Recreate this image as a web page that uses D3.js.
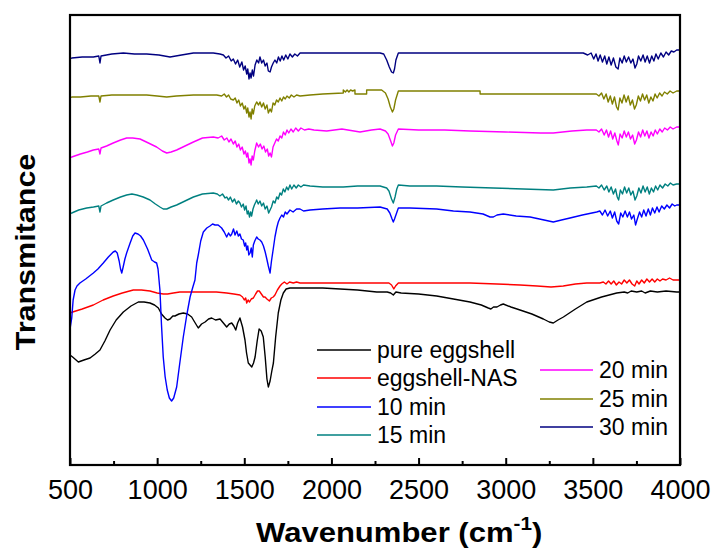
<!DOCTYPE html>
<html>
<head>
<meta charset="utf-8">
<script src="https://cdn.jsdelivr.net/npm/d3@7/dist/d3.min.js"></script>
<style>
  html, body { margin: 0; padding: 0; background: #fff; }
  svg { display: block; }
  text { font-family: "Liberation Sans", Arial, sans-serif; fill: #000; }
</style>
</head>
<body>
<svg id="chart" width="718" height="550"></svg>
<script>
// ---- data: [wavenumber (cm-1), offset transmittance (a.u.)] ----
const pureEggshell = [[500,110],[515,108],[548,103],[580,105],[615,107],[645,111],[672,115],[700,124],[730,135],[765,145],[806,153],[850,159],[892,163],[925,163],[959,162],[985,160],[1007,157],[1025,151],[1045,147],[1060,145],[1074,146],[1090,149],[1102,149],[1125,151],[1150,152],[1175,151],[1198,148],[1215,143],[1236,137],[1255,141],[1275,143],[1295,146],[1313,147],[1335,145],[1361,146],[1380,142],[1399,138],[1414,141],[1428,142],[1440,139],[1451,135],[1462,142],[1475,147],[1490,138],[1504,125],[1513,112],[1523,102],[1543,98],[1553,102],[1562,108],[1574,124],[1585,136],[1597,134],[1609,128],[1620,108],[1630,86],[1638,78],[1648,84],[1658,94],[1667,102],[1680,128],[1695,152],[1710,165],[1724,172],[1740,176],[1762,177],[1850,177],[1950,177],[2050,176],[2150,175],[2260,173],[2320,173],[2340,172],[2355,170],[2370,173],[2400,172],[2500,171],[2604,169],[2700,166],[2795,163],[2860,160],[2900,157],[2915,156],[2930,158],[2950,158],[2970,160],[2986,161],[3030,158],[3082,155],[3150,151],[3216,146],[3250,143],[3273,142],[3300,145],[3331,148],[3400,156],[3465,163],[3550,168],[3637,172],[3680,173],[3700,172],[3720,174],[3752,173],[3780,174],[3800,172],[3830,174],[3870,173],[3920,174],[3981,173],[4000,173]];

const eggshellNAS = [[500,152],[515,153],[570,156],[634,160],[690,165],[748,169],[800,172],[863,175],[910,175],[959,174],[1000,172],[1035,171],[1060,171],[1093,172],[1130,173],[1170,173],[1230,173],[1284,173],[1340,173],[1399,172],[1440,171],[1475,170],[1490,168],[1500,165],[1508,167],[1514,162],[1522,165],[1530,163],[1540,166],[1552,167],[1565,171],[1576,174],[1586,174],[1598,171],[1610,168],[1619,168],[1630,166],[1644,164],[1655,167],[1666,168],[1676,170],[1690,175],[1705,179],[1715,181],[1730,183],[1745,181],[1760,183],[1781,182],[1800,183],[1820,182],[1900,182],[2000,182],[2100,182],[2200,182],[2279,182],[2330,182],[2345,180],[2358,176],[2368,179],[2384,182],[2500,182],[2650,182],[2795,182],[2950,181],[3082,180],[3180,179],[3260,178],[3330,179],[3400,181],[3465,182],[3540,182],[3560,183],[3575,181],[3590,184],[3605,181],[3620,184],[3635,180],[3650,183],[3665,181],[3680,185],[3695,182],[3710,185],[3725,181],[3740,179],[3752,184],[3765,181],[3780,185],[3795,182],[3810,186],[3825,183],[3840,186],[3855,183],[3870,186],[3885,184],[3900,186],[3920,185],[3940,187],[3960,185],[3981,185],[4000,185]];

const min10 = [[502,138],[510,147],[518,165],[529,175],[540,179],[557,182],[590,186],[634,192],[660,196],[691,202],[720,208],[748,213],[760,214],[771,212],[782,204],[790,196],[797,192],[805,198],[815,206],[825,212],[845,222],[860,229],[873,232],[890,231],[905,229],[921,225],[945,216],[969,205],[985,203],[997,202],[1005,196],[1016,175],[1025,140],[1035,108],[1046,88],[1058,75],[1070,67],[1083,64],[1095,67],[1112,78],[1130,102],[1150,128],[1170,150],[1189,168],[1205,178],[1217,185],[1227,202],[1236,210],[1250,224],[1265,233],[1285,237],[1303,239],[1318,241],[1332,240],[1350,240],[1370,237],[1385,233],[1399,228],[1410,232],[1420,229],[1428,231],[1438,236],[1447,230],[1457,234],[1466,229],[1475,231],[1484,226],[1494,225],[1502,219],[1508,222],[1514,215],[1520,219],[1526,210],[1533,212],[1540,217],[1546,208],[1552,220],[1560,224],[1571,228],[1580,226],[1590,225],[1600,223],[1610,219],[1620,213],[1628,207],[1638,199],[1648,192],[1656,204],[1667,217],[1676,228],[1686,237],[1695,243],[1705,247],[1715,250],[1725,248],[1735,253],[1745,251],[1762,255],[1780,253],[1800,256],[1820,256],[1840,254],[1877,255],[1950,256],[2050,257],[2150,257],[2279,258],[2320,256],[2335,252],[2348,246],[2355,243],[2362,246],[2370,250],[2384,257],[2450,257],[2604,256],[2700,254],[2795,253],[2870,251],[2910,248],[2929,248],[2950,250],[2986,251],[3060,249],[3140,248],[3220,245],[3273,243],[3320,245],[3369,247],[3440,250],[3522,253],[3540,254],[3555,250],[3570,255],[3585,249],[3600,254],[3612,247],[3625,253],[3637,244],[3648,241],[3660,252],[3672,248],[3685,254],[3698,248],[3710,253],[3722,246],[3735,250],[3745,240],[3755,246],[3768,253],[3780,248],[3792,255],[3805,249],[3818,256],[3830,250],[3842,257],[3855,252],[3868,258],[3880,253],[3895,259],[3910,256],[3925,260],[3940,257],[3955,261],[3970,259],[3981,260],[4000,260]];

const min15 = [[500,251],[510,252],[550,255],[596,257],[635,258],[665,259],[672,253],[678,259],[710,262],[748,265],[790,268],[825,270],[855,271],[883,270],[920,268],[959,265],[990,261],[1016,258],[1035,256],[1055,256],[1080,258],[1112,260],[1160,264],[1208,268],[1260,271],[1322,272],[1345,271],[1360,269],[1375,271],[1390,267],[1399,268],[1410,265],[1420,268],[1432,263],[1444,266],[1455,261],[1466,264],[1475,262],[1484,258],[1494,261],[1502,255],[1510,259],[1517,251],[1523,254],[1530,248],[1536,253],[1542,249],[1550,256],[1558,260],[1566,263],[1571,265],[1580,261],[1590,264],[1600,259],[1610,262],[1620,256],[1630,259],[1640,252],[1648,255],[1656,258],[1666,264],[1676,262],[1686,268],[1695,266],[1705,272],[1714,270],[1724,276],[1733,273],[1743,278],[1752,275],[1762,280],[1772,276],[1785,280],[1798,277],[1810,280],[1825,278],[1840,280],[1877,279],[1950,278],[2068,278],[2150,279],[2279,279],[2317,277],[2330,274],[2345,266],[2355,262],[2365,268],[2375,276],[2384,280],[2450,279],[2604,279],[2750,278],[2929,277],[3100,276],[3273,275],[3370,277],[3465,278],[3520,279],[3535,277],[3550,280],[3565,275],[3580,279],[3592,273],[3605,278],[3618,271],[3630,276],[3640,268],[3648,265],[3658,275],[3670,271],[3682,278],[3694,272],[3706,277],[3718,270],[3730,274],[3742,265],[3752,269],[3764,277],[3776,272],[3788,279],[3800,273],[3812,278],[3824,271],[3836,277],[3848,273],[3860,279],[3872,275],[3885,280],[3900,277],[3915,281],[3930,279],[3945,282],[3960,280],[3981,281],[4000,281]];

const min20 = [[500,307],[510,308],[560,311],[600,313],[634,315],[665,316],[672,311],[678,317],[710,319],[748,322],[790,325],[825,327],[860,327],[902,326],[950,322],[997,318],[1030,314],[1055,312],[1080,313],[1112,315],[1160,319],[1208,323],[1260,327],[1322,328],[1350,327],[1370,329],[1385,325],[1400,327],[1412,323],[1424,326],[1437,321],[1448,324],[1458,318],[1468,321],[1478,315],[1488,318],[1498,311],[1506,314],[1514,308],[1520,312],[1527,302],[1533,306],[1539,300],[1545,309],[1552,305],[1560,314],[1571,322],[1582,318],[1592,321],[1602,316],[1612,319],[1622,313],[1632,316],[1640,309],[1648,312],[1656,308],[1665,318],[1675,322],[1685,326],[1695,324],[1705,329],[1715,327],[1725,333],[1735,330],[1745,335],[1755,332],[1768,336],[1781,333],[1795,337],[1810,334],[1825,337],[1845,335],[1870,336],[1900,335],[1973,334],[2060,336],[2164,333],[2230,335],[2279,336],[2310,334],[2325,331],[2340,324],[2350,319],[2358,322],[2368,330],[2384,336],[2500,335],[2650,335],[2795,334],[3000,333],[3200,332],[3273,332],[3380,334],[3465,335],[3520,335],[3535,333],[3550,336],[3565,330],[3578,335],[3590,328],[3602,334],[3614,326],[3626,332],[3638,324],[3646,320],[3656,331],[3668,327],[3680,334],[3692,328],[3704,333],[3716,326],[3728,330],[3740,321],[3750,325],[3762,333],[3774,328],[3786,335],[3798,329],[3810,334],[3822,327],[3834,333],[3846,329],[3858,335],[3870,331],[3884,336],[3898,333],[3912,337],[3928,335],[3944,338],[3960,336],[3981,338],[4000,338]];

const min25 = [[500,367],[510,368],[560,368],[620,369],[665,369],[672,363],[678,369],[740,370],[825,370],[880,370],[940,370],[1000,369],[1055,368],[1110,369],[1208,370],[1280,370],[1342,370],[1370,369],[1385,371],[1398,368],[1410,370],[1422,366],[1437,365],[1448,367],[1458,362],[1468,365],[1478,359],[1488,362],[1498,356],[1506,359],[1514,352],[1520,357],[1527,348],[1533,353],[1539,346],[1545,356],[1552,351],[1560,359],[1571,363],[1582,360],[1590,363],[1600,358],[1610,362],[1620,356],[1630,360],[1638,352],[1648,356],[1656,353],[1665,362],[1675,360],[1685,365],[1695,363],[1705,367],[1715,364],[1725,368],[1735,366],[1745,369],[1758,367],[1770,370],[1785,368],[1800,370],[1820,369],[1877,370],[1950,371],[2068,372],[2068,375],[2080,373],[2090,375],[2100,373],[2110,375],[2122,374],[2135,375],[2135,371],[2202,371],[2202,375],[2288,375],[2310,372],[2325,366],[2338,358],[2350,353],[2358,356],[2368,365],[2384,374],[2480,374],[2700,374],[2853,374],[2853,371],[3100,371],[3300,371],[3465,371],[3520,371],[3535,369],[3550,372],[3563,366],[3576,371],[3588,363],[3600,369],[3612,361],[3624,368],[3636,358],[3645,355],[3655,367],[3667,362],[3679,370],[3691,363],[3703,369],[3715,360],[3727,365],[3739,356],[3749,360],[3761,369],[3773,364],[3785,371],[3797,365],[3809,370],[3821,362],[3833,368],[3845,364],[3857,371],[3869,367],[3883,372],[3897,369],[3911,373],[3927,371],[3943,374],[3960,372],[3981,374],[4000,374]];

const min30 = [[500,406],[510,407],[570,408],[634,408],[665,409],[672,402],[678,409],[740,411],[806,412],[870,411],[940,411],[1010,410],[1074,408],[1140,410],[1208,412],[1270,412],[1322,412],[1360,411],[1380,410],[1395,407],[1410,409],[1425,404],[1437,406],[1450,401],[1462,405],[1474,398],[1486,403],[1496,395],[1505,399],[1514,391],[1520,396],[1527,386],[1533,392],[1539,387],[1546,395],[1553,389],[1562,400],[1572,405],[1582,402],[1590,408],[1600,402],[1610,405],[1620,399],[1630,402],[1638,394],[1648,393],[1656,398],[1666,402],[1676,405],[1686,402],[1696,408],[1706,404],[1716,409],[1726,405],[1738,410],[1750,406],[1762,411],[1776,408],[1790,411],[1805,409],[1820,412],[1858,412],[1950,412],[2100,412],[2279,412],[2300,411],[2317,405],[2332,398],[2345,393],[2355,392],[2362,396],[2370,405],[2384,412],[2600,412],[3000,412],[3445,412],[3470,410],[3490,412],[3505,406],[3518,411],[3530,404],[3542,410],[3555,403],[3568,409],[3580,401],[3592,408],[3605,400],[3618,407],[3632,398],[3645,396],[3655,407],[3668,402],[3680,409],[3692,403],[3705,408],[3718,402],[3730,406],[3742,397],[3752,401],[3762,409],[3775,404],[3788,410],[3800,403],[3812,409],[3825,402],[3838,409],[3850,404],[3862,411],[3875,406],[3890,412],[3905,408],[3920,413],[3935,410],[3950,414],[3965,413],[3981,415],[4000,415]];

const seriesNames  = ["pure eggshell", "eggshell-NAS", "10 min", "15 min", "20 min", "25 min", "30 min"];
const seriesColors = ["#000000", "#ff0000", "#0000ff", "#008080", "#ff00ff", "#808000", "#000080"];
const seriesData   = [pureEggshell, eggshellNAS, min10, min15, min20, min25, min30];

const majorTicks = [500, 1000, 1500, 2000, 2500, 3000, 3500, 4000];
const minorTicks = [750, 1250, 1750, 2250, 2750, 3250, 3750];
const xDomain = [500, 4000];
const yDomain = [0, 450];

// ---- layout ----
const svg = d3.select("#chart");
const L = 70, R = 680, T = 15, B = 465;

const x = d3.scaleLinear().domain(xDomain).range([L, R]);
const y = d3.scaleLinear().domain(yDomain).range([B, T]);

const line = d3.line().x(d => x(d[0])).y(d => y(d[1]));

// spectra
svg.append("g")
  .selectAll("path")
  .data(seriesData)
  .join("path")
  .attr("d", d => line(d))
  .attr("fill", "none")
  .attr("stroke", (d, i) => seriesColors[i])
  .attr("stroke-width", 1.4)
  .attr("stroke-linejoin", "round");

// frame
svg.append("rect")
  .attr("x", L).attr("y", T)
  .attr("width", R - L).attr("height", B - T)
  .attr("fill", "none").attr("stroke", "#000").attr("stroke-width", 2.2);

// x axis (ticks inward)
const gMajor = svg.append("g").attr("transform", `translate(0,${B})`)
  .call(d3.axisBottom(x).tickValues(majorTicks).tickSize(-7).tickPadding(15).tickFormat(d3.format("d")));
gMajor.select(".domain").remove();
gMajor.selectAll(".tick line").attr("stroke", "#000").attr("stroke-width", 2);
gMajor.selectAll(".tick text")
  .attr("font-size", 27)
  .attr("font-family", "Liberation Sans, Arial, sans-serif")
  .attr("fill", "#000");

const gMinor = svg.append("g").attr("transform", `translate(0,${B})`)
  .call(d3.axisBottom(x).tickValues(minorTicks).tickSize(-4).tickFormat(""));
gMinor.select(".domain").remove();
gMinor.selectAll(".tick line").attr("stroke", "#000").attr("stroke-width", 2);

// axis titles
const xt = svg.append("text")
  .attr("transform", "translate(256,542) scale(1.15,1)")
  .attr("font-size", 27).attr("font-weight", "bold");
xt.append("tspan").text("Wavenumber (cm");
xt.append("tspan").attr("font-size", 18).attr("dy", -12).text("-1");
xt.append("tspan").attr("dy", 12).text(")");

svg.append("text")
  .attr("transform", "translate(35,252) rotate(-90) scale(1.13,1)")
  .attr("text-anchor", "middle")
  .attr("font-size", 27).attr("font-weight", "bold")
  .text("Transmitance");

// legend
const legendPos = [
  {x1: 317, x2: 371, y: 350}, {x1: 317, x2: 371, y: 378},
  {x1: 317, x2: 371, y: 407}, {x1: 317, x2: 371, y: 435},
  {x1: 540, x2: 593, y: 370}, {x1: 540, x2: 593, y: 399},
  {x1: 540, x2: 593, y: 427}
];
const lg = svg.append("g").selectAll("g").data(seriesNames).join("g");
lg.append("line")
  .attr("x1", (d, i) => legendPos[i].x1).attr("x2", (d, i) => legendPos[i].x2)
  .attr("y1", (d, i) => legendPos[i].y).attr("y2", (d, i) => legendPos[i].y)
  .attr("stroke", (d, i) => seriesColors[i]).attr("stroke-width", 1.6);
lg.append("text")
  .attr("x", (d, i) => legendPos[i].x2 + 6)
  .attr("y", (d, i) => legendPos[i].y + 8)
  .attr("font-size", 23)
  .text(d => d);
</script>
</body>
</html>
